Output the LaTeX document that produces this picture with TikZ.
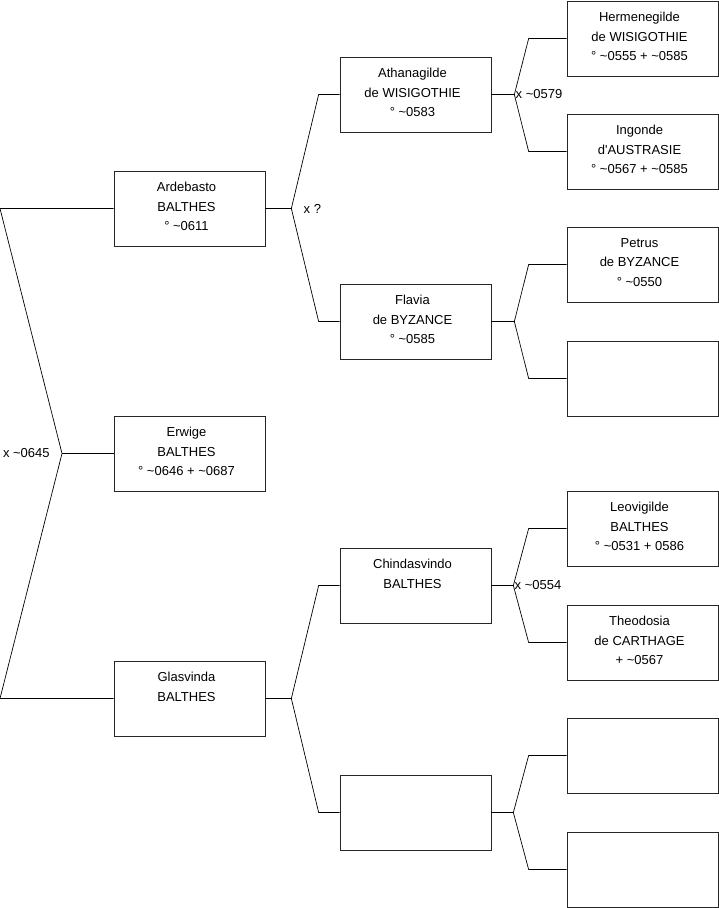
\documentclass[tikz,border=0pt]{standalone}
\usepackage{fontspec}
\setmainfont{Liberation Sans}
\usetikzlibrary{positioning}

\newcommand{\ca}{\textasciitilde}
\tikzset{
  person/.style={draw=black!85, minimum width=151pt, minimum height=75pt, inner sep=0pt},
  txt/.style={label={[anchor=north, align=center, yshift=-8pt, xshift=-3pt,
      font=\fontsize{13}{19.5}\selectfont]north:#1}},
  union/.style={font=\fontsize{13}{15}\selectfont, inner sep=0pt},
}

\begin{document}
\begin{tikzpicture}[x=1pt,y=-1pt,line width=0.7pt]
  \useasboundingbox (0,0) rectangle (719,908);
  % generation 1
  \node[person,txt={Ardebasto\\BALTHES\\° \ca0611}] (ard) at (189.5,208.5) {};
  \node[person,txt={Erwige\\BALTHES\\° \ca0646 + \ca0687}] (erw) at (189.5,453.5) {};
  \node[person,txt={Glasvinda\\BALTHES}] (gla) at (189.5,698.5) {};
  % generation 2
  \node[person,txt={Athanagilde\\de WISIGOTHIE\\° \ca0583}] (ath) at (415.5,94.5) {};
  \node[person,txt={Flavia\\de BYZANCE\\° \ca0585}] (fla) at (415.5,321.5) {};
  \node[person,txt={Chindasvindo\\BALTHES}] (chi) at (415.5,585.5) {};
  \node[person] (unk) at (415.5,812.5) {};
  % generation 3
  \node[person,txt={Hermenegilde\\de WISIGOTHIE\\° \ca0555 + \ca0585}] (her) at (642.5,38.5) {};
  \node[person,txt={Ingonde\\d\textquotesingle AUSTRASIE\\° \ca0567 + \ca0585}] (ing) at (642.5,151.5) {};
  \node[person,txt={Petrus\\de BYZANCE\\° \ca0550}] (pet) at (642.5,264.5) {};
  \node[person] (unka) at (642.5,378.5) {};
  \node[person,txt={Leovigilde\\BALTHES\\° \ca0531 + 0586}] (leo) at (642.5,528.5) {};
  \node[person,txt={Theodosia\\de CARTHAGE\\+ \ca0567}] (the) at (642.5,642.5) {};
  \node[person] (unkb) at (642.5,755.5) {};
  \node[person] (unkc) at (642.5,869.5) {};

  % junctions
  \coordinate (pa) at (0,208.5);
  \coordinate (pb) at (0,698.5);
  \coordinate (j0) at (62,453.5);
  \coordinate (j1) at ([xshift=26pt]ard.east);
  \coordinate (j2) at ([xshift=26pt]gla.east);
  \coordinate (j3) at ([xshift=23pt]ath.east);
  \coordinate (j4) at ([xshift=23pt]fla.east);
  \coordinate (j5) at ([xshift=22pt]chi.east);
  \coordinate (j6) at ([xshift=22pt]unk.east);

  % couples
  \draw (ard.west) -- (pa) -- (j0) -- (pb) -- (gla.west);
  \draw (j0) -- (erw.west);
  \draw (ard.east) -- (j1);
  \draw (ath.west) -- ++(-21,0) -- (j1) -- ([xshift=-21pt]fla.west) -- (fla.west);
  \draw (gla.east) -- (j2);
  \draw (chi.west) -- ++(-21,0) -- (j2) -- ([xshift=-21pt]unk.west) -- (unk.west);
  \draw (ath.east) -- (j3);
  \draw (her.west) -- ++(-38,0) -- (j3) -- ([xshift=-38pt]ing.west) -- (ing.west);
  \draw (fla.east) -- (j4);
  \draw (pet.west) -- ++(-38,0) -- (j4) -- ([xshift=-38pt]unka.west) -- (unka.west);
  \draw (chi.east) -- (j5);
  \draw (leo.west) -- ++(-38,0) -- (j5) -- ([xshift=-38pt]the.west) -- (the.west);
  \draw (unk.east) -- (j6);
  \draw (unkb.west) -- ++(-38,0) -- (j6) -- ([xshift=-38pt]unkc.west) -- (unkc.west);

  % marriages
  \node[union,anchor=east] (m0) at ([xshift=-12pt]j0) {x \ca0645};
  \node[union,anchor=west] (m1) at ([xshift=12pt]j1) {x ?};
  \node[union,anchor=west] (m3) at ([xshift=1pt]j3) {x \ca0579};
  \node[union,anchor=west] (m5) at ([xshift=1pt]j5) {x \ca0554};
\end{tikzpicture}
\end{document}
